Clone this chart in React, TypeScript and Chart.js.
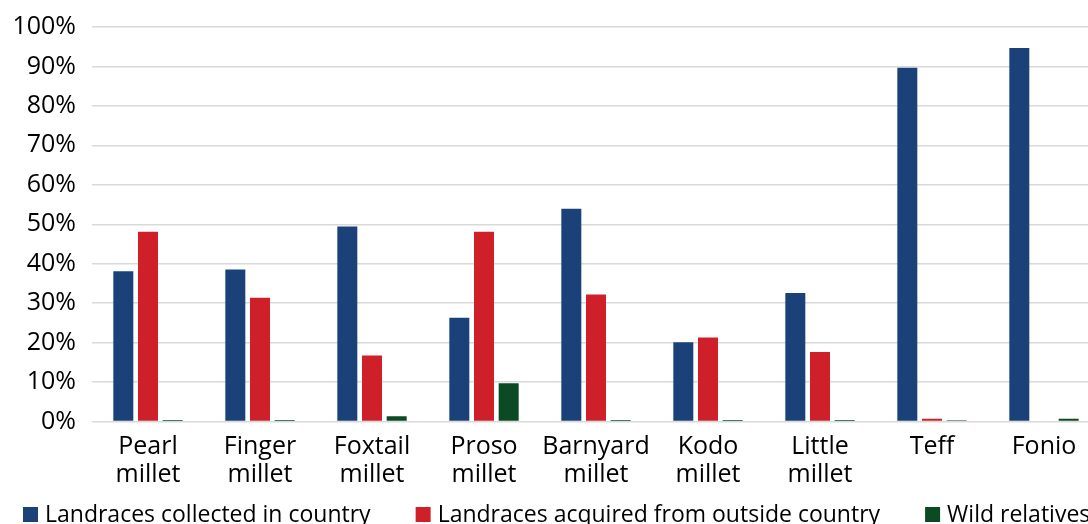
import React, { useEffect, useRef } from "react";
import { Chart, registerables } from "chart.js";

Chart.register(...registerables);

const categories: string[][] = [
  ["Pearl", "millet"],
  ["Finger", "millet"],
  ["Foxtail", "millet"],
  ["Proso", "millet"],
  ["Barnyard", "millet"],
  ["Kodo", "millet"],
  ["Little", "millet"],
  ["Teff"],
  ["Fonio"],
];

const collectedInCountry = [38.1, 38.5, 49.4, 26.3, 53.9, 20.1, 32.6, 89.7, 94.7];
const acquiredOutside = [48.1, 31.4, 16.7, 48.1, 32.2, 21.3, 17.6, 0.7, 0];
const wildRelatives = [0.4, 0.4, 1.3, 9.7, 0.4, 0.4, 0.4, 0.3, 0.7];

const seriesLabels = [
  "Landraces collected in country",
  "Landraces acquired from outside country",
  "Wild relatives",
];
const seriesColors = ["#1a4279", "#cf2029", "#0b4a23"];

const FONT = "'Open Sans', 'Noto Sans', sans-serif";

const legendPlugin = {
  id: "customLegend",
  afterDraw(chart: any) {
    const ctx = chart.ctx as CanvasRenderingContext2D;
    ctx.save();
    ctx.font = `23px ${FONT}`;
    ctx.textBaseline = "alphabetic";
    ctx.textAlign = "left";
    let x = 23;
    const boxTop = 507;
    const box = 15;
    chart.data.datasets.forEach((ds: any) => {
      ctx.fillStyle = ds.backgroundColor;
      ctx.fillRect(x, boxTop, box, box);
      ctx.fillStyle = "#000";
      const tx = x + box + 7;
      ctx.fillText(ds.label, tx, 522);
      x = tx + ctx.measureText(ds.label).width + 45;
    });
    ctx.restore();
  },
};

export default function App() {
  const ref = useRef<HTMLCanvasElement | null>(null);

  useEffect(() => {
    if (!ref.current) return;
    const datasets = [collectedInCountry, acquiredOutside, wildRelatives].map((d, i) => ({
      label: seriesLabels[i],
      data: d,
      backgroundColor: seriesColors[i],
      borderWidth: 0,
      categoryPercentage: 0.661,
      barPercentage: 0.81,
    }));
    const chart = new Chart(ref.current, {
      type: "bar",
      data: { labels: categories, datasets },
      options: {
        animation: false,
        responsive: false,
        maintainAspectRatio: false,
        layout: { padding: { top: 27, left: 0, right: 12, bottom: 24 } },
        plugins: {
          legend: { display: false },
          tooltip: { enabled: false },
        },
        scales: {
          x: {
            grid: { display: false, drawTicks: false },
            border: { display: false },
            ticks: {
              color: "#000",
              padding: 11,
              maxRotation: 0,
              autoSkip: false,
              font: { family: FONT, size: 25, lineHeight: 1.13 },
            },
          },
          y: {
            min: 0,
            max: 100,
            afterFit: (s: any) => {
              s.width = 92;
              s.paddingTop = 0;
              s.paddingBottom = 0;
            },
            grid: { color: "#d9d9d9", lineWidth: 1.4, drawTicks: false },
            border: { display: false },
            ticks: {
              stepSize: 10,
              color: "#000",
              padding: 16,
              font: { family: FONT, size: 25 },
              callback: (v: any) => `${v}%`,
            },
          },
        },
      },
      plugins: [legendPlugin],
    });
    return () => chart.destroy();
  }, []);

  return (
    <div
      style={{
        position: "fixed",
        left: 0,
        top: 0,
        width: "100vw",
        height: "100vh",
        overflow: "hidden",
        background: "#fff",
      }}
    >
      <canvas ref={ref} width={1112} height={524} style={{ display: "block" }} />
    </div>
  );
}
